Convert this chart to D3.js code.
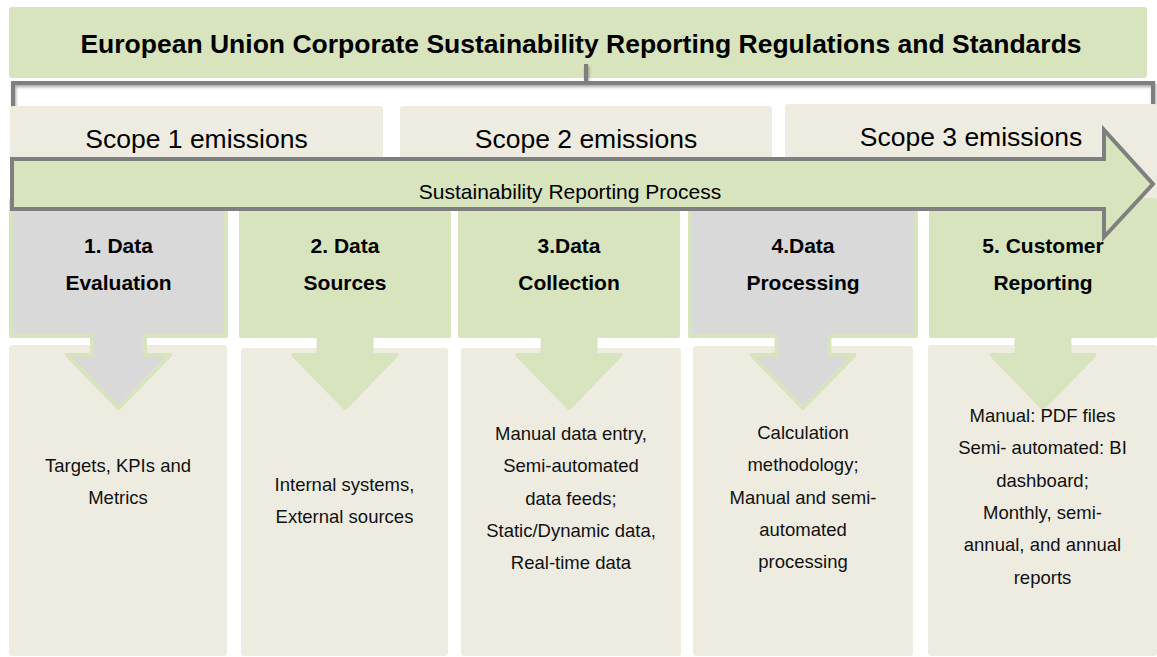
<!DOCTYPE html>
<html>
<head>
<meta charset="utf-8">
<script src="https://cdn.jsdelivr.net/npm/d3@7"></script>
<style>
  html, body { margin: 0; padding: 0; background: #fff; }
  svg { display: block; font-family: "Liberation Sans", Arial, sans-serif; }
</style>
</head>
<body>
<div id="diagram"></div>
<script>
// 1: DATA (texts of the diagram)
const title = "European Union Corporate Sustainability Reporting Regulations and Standards";
const scopes = ["Scope 1 emissions", "Scope 2 emissions", "Scope 3 emissions"];
const processLabel = "Sustainability Reporting Process";
const stepTitles = [
    ["1. Data", "Evaluation"],
    ["2. Data", "Sources"],
    ["3.Data", "Collection"],
    ["4.Data", "Processing"],
    ["5. Customer", "Reporting"]
];
const stepGrey = [true, false, false, true, false];
const stepDetails = [
    ["Targets, KPIs and", "Metrics"],
    ["Internal systems,", "External sources"],
    ["Manual data entry,", "Semi-automated", "data feeds;", "Static/Dynamic data,", "Real-time data"],
    ["Calculation", "methodology;", "Manual and semi-", "automated", "processing"],
    ["Manual: PDF files", "Semi- automated: BI", "dashboard;", "Monthly, semi-", "annual, and annual", "reports"]
];

// 2: LAYOUT
const width = 1157, height = 657;
const green = "#d7e4bd", beige = "#eeece1", grey = "#d9d9d9", line = "#7f7f7f";
const scopeBoxes = [[10, 383, 106], [400, 772, 106], [785, 1157, 104]];
const stepBoxes = [[9, 228], [239, 451], [458, 680], [688, 918], [929, 1157]];
const detailBoxes = [[9, 227, 345], [241, 448, 348], [461, 681, 348], [693, 913, 346], [928, 1157, 345]];
const detailTop = [472, 491, 440, 439, 422];

const scopeX = d3.scaleOrdinal().domain(scopes).range(scopeBoxes);
const stepIdx = stepTitles.map((d, i) => i);
const stepX = d3.scaleOrdinal().domain(stepIdx).range(stepBoxes);
const detailX = d3.scaleOrdinal().domain(stepIdx).range(detailBoxes);
const lineY = d3.scaleLinear().domain([0, 1]).range([0, 32.3]);

const svg = d3.select("#diagram")
    .append("svg")
    .attr("width", width)
    .attr("height", height);

const defs = svg.append("defs");
defs.append("filter").attr("id", "shadow")
    .attr("x", "-5%").attr("y", "-50%").attr("width", "110%").attr("height", "200%")
    .append("feDropShadow")
    .attr("dx", 1).attr("dy", 2).attr("stdDeviation", 1.5)
    .attr("flood-color", "#000").attr("flood-opacity", 0.35);

// Title box
svg.append("rect")
    .attr("x", 9).attr("y", 7)
    .attr("width", 1138).attr("height", 71)
    .attr("rx", 3)
    .attr("fill", green);

svg.append("text")
    .attr("x", 581).attr("y", 53)
    .attr("text-anchor", "middle")
    .attr("font-size", 26.5).attr("font-weight", "bold")
    .attr("fill", "#000")
    .text(title);

// Bracket under the title
const bracket = svg.append("g").attr("filter", "url(#shadow)")
    .attr("fill", "none").attr("stroke", line).attr("stroke-width", 4);
bracket.append("path").attr("d", "M13,107 L13,83 L1153,83 L1153,107");
bracket.append("path").attr("d", "M586,64 L586,83");

// Scope boxes
svg.selectAll(".scope")
    .data(scopes)
    .join("rect")
    .attr("class", "scope")
    .attr("x", d => scopeX(d)[0])
    .attr("y", d => scopeX(d)[2])
    .attr("width", d => scopeX(d)[1] - scopeX(d)[0])
    .attr("height", d => 200 - scopeX(d)[2])
    .attr("rx", 3)
    .attr("fill", beige);

svg.selectAll(".scope-label")
    .data(scopes)
    .join("text")
    .attr("class", "scope-label")
    .attr("x", d => (scopeX(d)[0] + scopeX(d)[1]) / 2)
    .attr("y", d => scopeX(d)[2] + 42)
    .attr("text-anchor", "middle")
    .attr("font-size", 26.5)
    .attr("fill", "#000")
    .text(d => d);

// Detail boxes (bottom row)
svg.selectAll(".detail")
    .data(stepIdx)
    .join("rect")
    .attr("class", "detail")
    .attr("x", i => detailX(i)[0])
    .attr("y", i => detailX(i)[2])
    .attr("width", i => detailX(i)[1] - detailX(i)[0])
    .attr("height", i => 656 - detailX(i)[2])
    .attr("rx", 3)
    .attr("fill", beige);

// Step boxes with down arrow callouts
function stepPath(i) {
    const [a, b] = stepX(i);
    const x0 = a + 2, x1 = b - 2, cx = (a + b) / 2;
    const top = 200, bottom = 336, sw = 26.5, headY = 355, hw = 51.5, tip = 408;
    return `M${x0},${top} L${x1},${top} L${x1},${bottom} L${cx + sw},${bottom} L${cx + sw},${headY} ` +
        `L${cx + hw},${headY} L${cx},${tip} L${cx - hw},${headY} L${cx - sw},${headY} ` +
        `L${cx - sw},${bottom} L${x0},${bottom} Z`;
}

svg.selectAll(".step")
    .data(stepIdx)
    .join("path")
    .attr("class", "step")
    .attr("d", stepPath)
    .attr("fill", i => stepGrey[i] ? grey : green)
    .attr("stroke", green)
    .attr("stroke-width", 4)
    .attr("stroke-linejoin", "round");

// Big process arrow
const arrowPts = [[12, 159], [1104, 159], [1104, 130], [1153, 184], [1104, 237], [1104, 209], [12, 209]];
svg.append("path")
    .attr("d", d3.line()(arrowPts) + "Z")
    .attr("fill", green)
    .attr("stroke", line)
    .attr("stroke-width", 4)
    .attr("stroke-linejoin", "miter");

svg.append("text")
    .attr("x", 570).attr("y", 199)
    .attr("text-anchor", "middle")
    .attr("font-size", 21)
    .attr("fill", "#000")
    .text(processLabel);

// Step titles
svg.selectAll(".step-title")
    .data(stepIdx)
    .join("text")
    .attr("class", "step-title")
    .attr("x", i => (stepX(i)[0] + stepX(i)[1]) / 2)
    .attr("y", 253)
    .attr("text-anchor", "middle")
    .attr("font-size", 21).attr("font-weight", "bold")
    .attr("fill", "#000")
    .selectAll("tspan")
    .data(i => stepTitles[i])
    .join("tspan")
    .attr("x", function () { return d3.select(this.parentNode).attr("x"); })
    .attr("dy", (d, j) => j === 0 ? 0 : 36.5)
    .text(d => d);

// Detail texts
svg.selectAll(".detail-text")
    .data(stepIdx)
    .join("text")
    .attr("class", "detail-text")
    .attr("x", i => (detailX(i)[0] + detailX(i)[1]) / 2)
    .attr("y", i => detailTop[i])
    .attr("text-anchor", "middle")
    .attr("font-size", 18.5)
    .attr("fill", "#111")
    .selectAll("tspan")
    .data(i => stepDetails[i])
    .join("tspan")
    .attr("x", function () { return d3.select(this.parentNode).attr("x"); })
    .attr("y", function (d, j) { return +d3.select(this.parentNode).attr("y") + lineY(j); })
    .text(d => d);
</script>
</body>
</html>
